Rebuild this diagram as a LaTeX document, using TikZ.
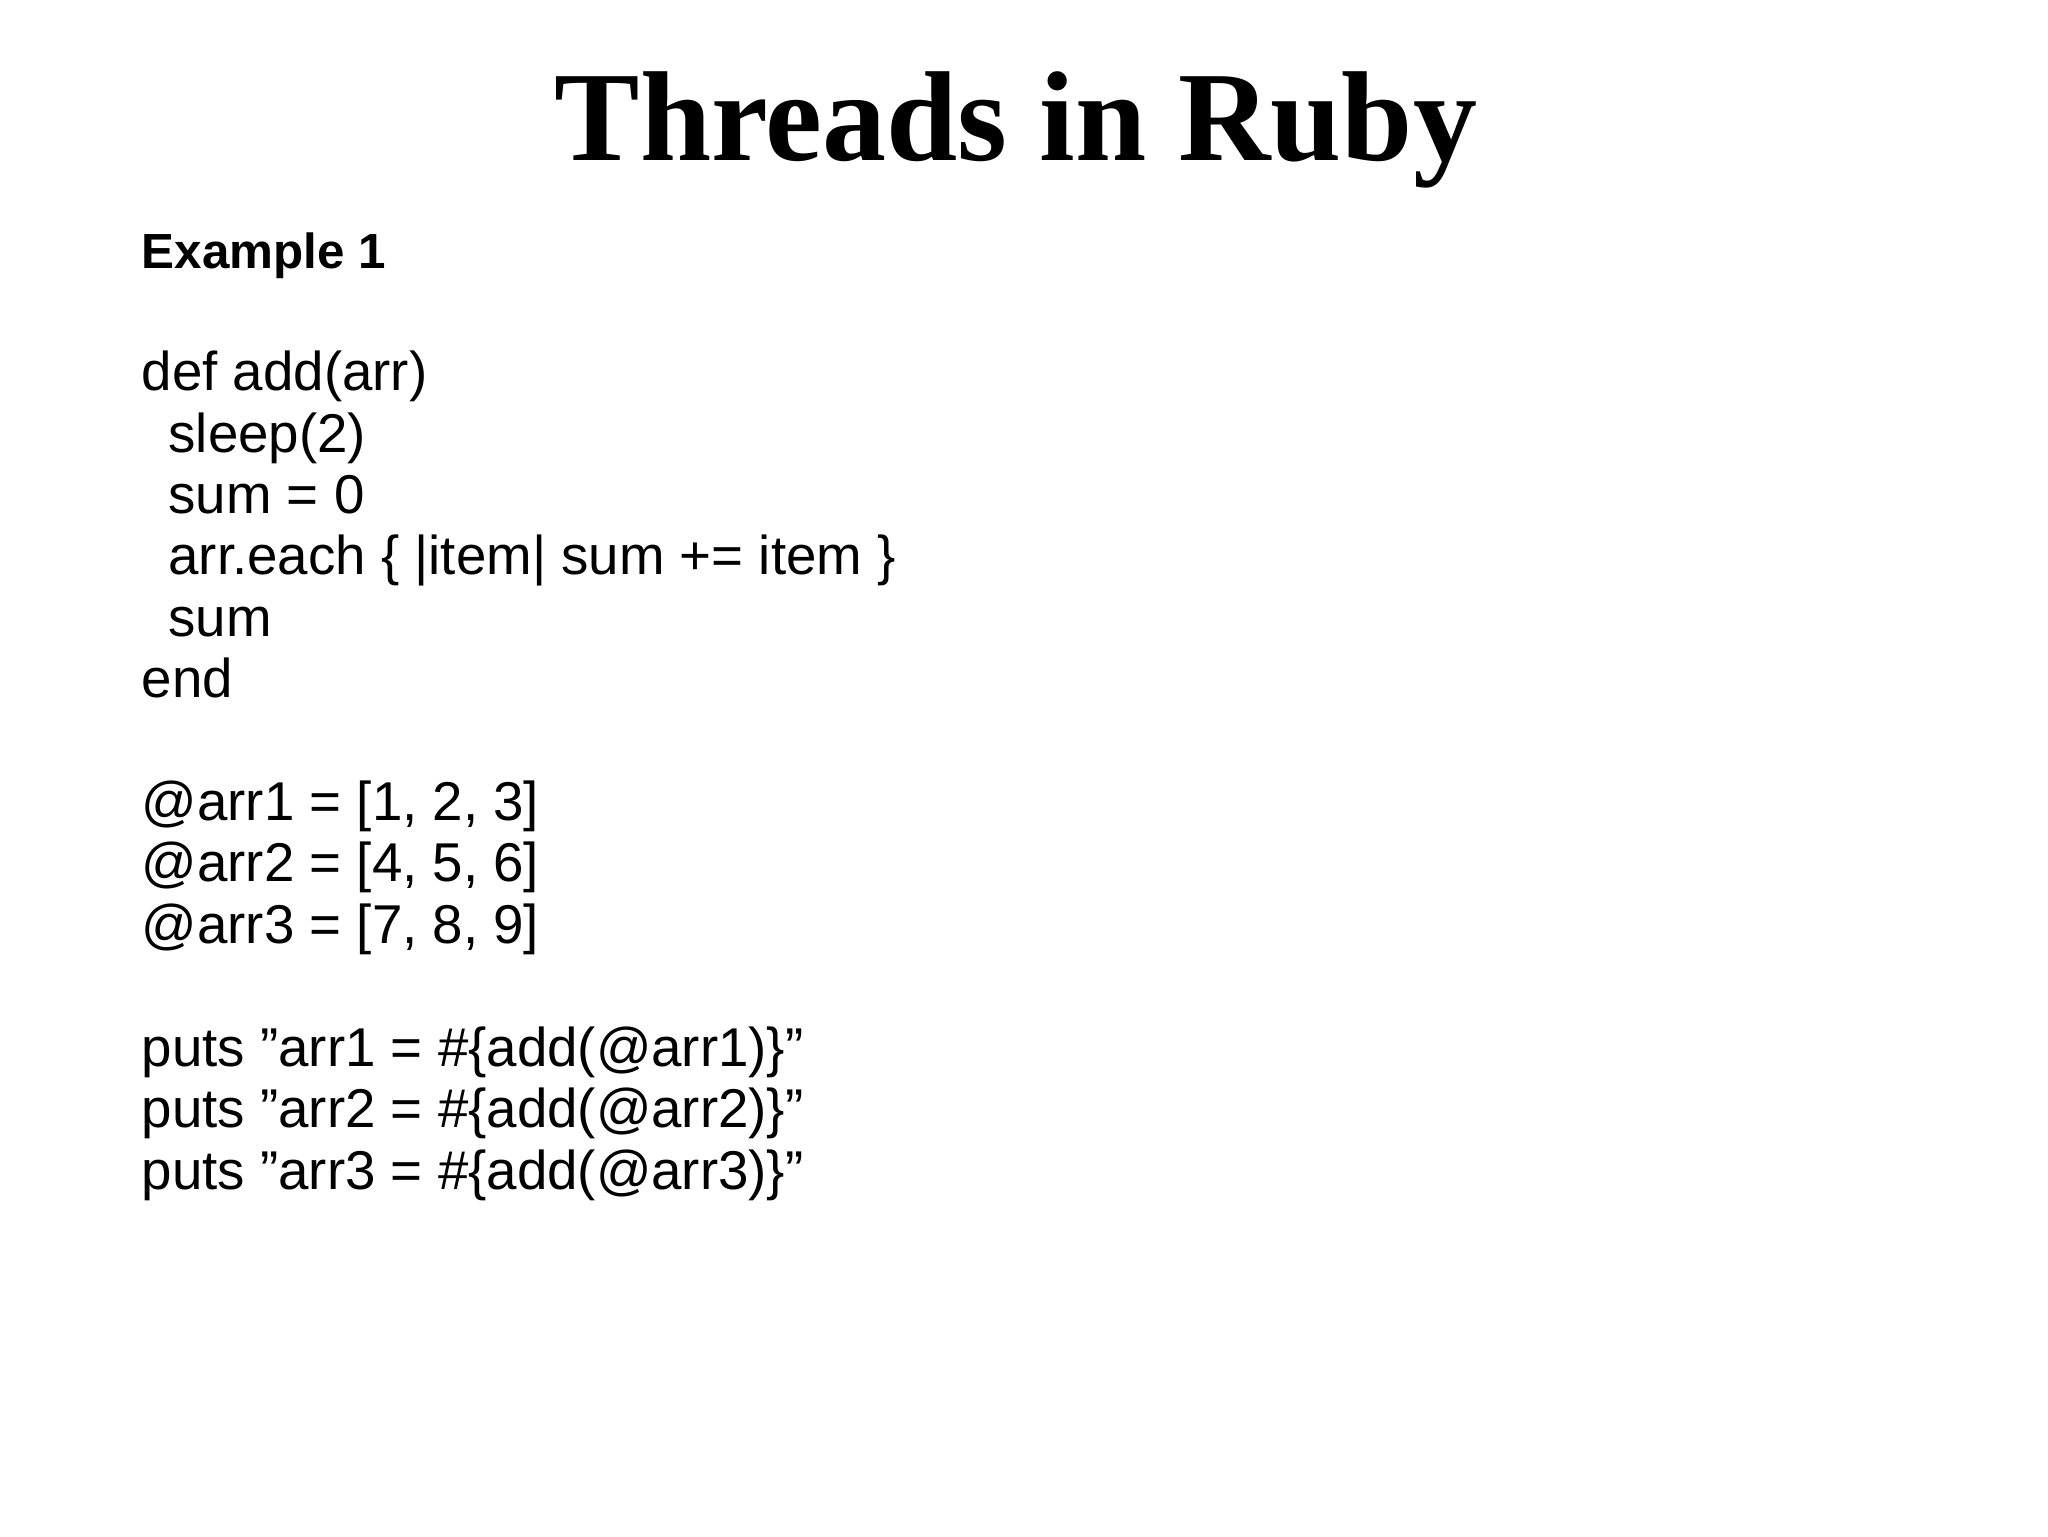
\documentclass[tikz,border=0pt]{standalone}
\usepackage{fontspec}
\setmainfont{Liberation Sans}
\newfontfamily\titlefont{Liberation Serif}
\begin{document}
\begin{tikzpicture}[x=1pt,y=-1pt,
  codeline/.style={anchor=base west,inner sep=0pt,font=\fontsize{20.5}{24}\selectfont}]
\useasboundingbox[fill=white] (0,0) rectangle (768,576);
\node[anchor=base,inner sep=0pt,font=\titlefont\bfseries\fontsize{48}{56}\selectfont] (title) at (381,60) {Threads in Ruby};
\node[codeline,font=\bfseries\fontsize{18.5}{22}\selectfont] (ex) at (53,100.5) {Example 1};
\def\L{23.03}
\node[codeline] (l1) at (53,146.5) {def add(arr)};
\node[codeline] (l2) at (63,146.5+\L) {sleep(2)};
\node[codeline] (l3) at (63,146.5+2*\L) {sum = 0};
\node[codeline] (l4) at (63,146.5+3*\L) {arr.each \{ |item| sum += item \}};
\node[codeline] (l5) at (63,146.5+4*\L) {sum};
\node[codeline] (l6) at (53,146.5+5*\L) {end};
\node[codeline] (l7) at (53,146.5+7*\L) {@arr1 = [1, 2, 3]};
\node[codeline] (l8) at (53,146.5+8*\L) {@arr2 = [4, 5, 6]};
\node[codeline] (l9) at (53,146.5+9*\L) {@arr3 = [7, 8, 9]};
\node[codeline] (l10) at (53,146.5+11*\L) {puts "arr1 = \#\{add(@arr1)\}"};
\node[codeline] (l11) at (53,146.5+12*\L) {puts "arr2 = \#\{add(@arr2)\}"};
\node[codeline] (l12) at (53,146.5+13*\L) {puts "arr3 = \#\{add(@arr3)\}"};
\end{tikzpicture}
\end{document}
